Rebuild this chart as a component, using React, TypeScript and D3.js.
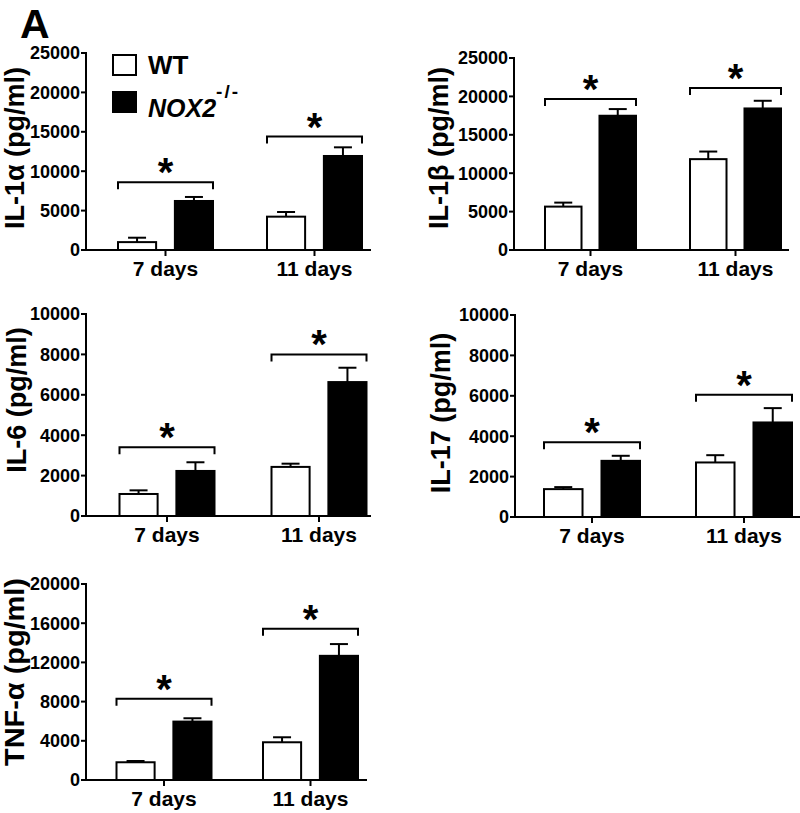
import React from "react";
import * as d3 from "d3";

const categories = ["7 days", "11 days"];
const seriesNames = ["WT", "NOX2"];
const cytokineLabels = ["IL-1α (pg/ml)", "IL-1β (pg/ml)", "IL-6 (pg/ml)", "IL-17 (pg/ml)", "TNF-α (pg/ml)"];
const yMaxValues = [25000, 25000, 10000, 10000, 20000];
const yTickSteps = [5000, 5000, 2000, 2000, 4000];
const wtMeans = [[1000, 4230], [5650, 11830], [1090, 2430], [1380, 2700], [1810, 3850]];
const wtSem = [[560, 590], [520, 990], [180, 160], [100, 360], [130, 510]];
const noxMeans = [[6220, 11930], [17480, 18430], [2230, 6630], [2780, 4680], [5960, 12670]];
const noxSem = [[510, 1100], [870, 1000], [430, 710], [250, 710], [340, 1200]];
const bracketLevels = [[8600, 14400], [19650, 21100], [3400, 8000], [3700, 6050], [8280, 15430]];
const significance = [["*", "*"], ["*", "*"], ["*", "*"], ["*", "*"], ["*", "*"]];
const legendLabels = ["WT", "NOX2", "-/-"];
const panelLetter = "A";

const layouts = [
  { axisX: 86, top: 53, bottom: 250, right: 370, groups: [165.5, 314.5], span: 95, labelX: 24, labelY: 148, labelLen: 0 },
  { axisX: 514, top: 58, bottom: 250, right: 788, groups: [590.5, 735.5], span: 91, labelX: 448, labelY: 148, labelLen: 0 },
  { axisX: 86, top: 314, bottom: 516, right: 370, groups: [167, 319], span: 95, labelX: 26, labelY: 400, labelLen: 0 },
  { axisX: 515, top: 315, bottom: 517, right: 800, groups: [592, 744], span: 96, labelX: 450, labelY: 413, labelLen: 0 },
  { axisX: 86, top: 584, bottom: 780, right: 366, groups: [164, 310.5], span: 95, labelX: 24, labelY: 672, labelLen: 188 },
];

const FONT = "'Liberation Sans', Arial, Helvetica, sans-serif";
const SW = 2;

function Panel({ idx }: { idx: number }) {
  const L = layouts[idx];
  const y = d3.scaleLinear().domain([0, yMaxValues[idx]]).range([L.bottom, L.top]);
  const xCat = d3.scaleOrdinal<string, number>().domain(categories).range(L.groups);
  const inner = d3.scaleBand<string>().domain(seriesNames).range([-L.span / 2, L.span / 2]).paddingInner(0.33).paddingOuter(0);
  const ticks = d3.range(0, yMaxValues[idx] + 1, yTickSteps[idx]);
  const means = [wtMeans[idx], noxMeans[idx]];
  const sems = [wtSem[idx], noxSem[idx]];
  const bw = inner.bandwidth();
  const labelProps: any = L.labelLen ? { textLength: L.labelLen, lengthAdjust: "spacingAndGlyphs" } : {};
  return (
    <g>
      <line x1={L.axisX} x2={L.axisX} y1={y(yMaxValues[idx])} y2={L.bottom} stroke="#000" strokeWidth={SW} strokeLinecap="square" />
      <line x1={L.axisX} x2={L.right} y1={L.bottom} y2={L.bottom} stroke="#000" strokeWidth={SW} strokeLinecap="square" />
      {ticks.map((t) => (
        <g key={t}>
          <line x1={L.axisX - 5} x2={L.axisX} y1={y(t)} y2={y(t)} stroke="#000" strokeWidth={SW} />
          <text x={L.axisX - 6} y={y(t)} dy="0.36em" textAnchor="end" fontFamily={FONT} fontWeight="bold" fontSize={18}>
            {t}
          </text>
        </g>
      ))}
      {categories.map((c) => (
        <g key={c}>
          <line x1={xCat(c)} x2={xCat(c)} y1={L.bottom} y2={L.bottom + 6} stroke="#000" strokeWidth={SW} />
          <text x={xCat(c)} y={L.bottom + 26} textAnchor="middle" fontFamily={FONT} fontWeight="bold" fontSize={21}>
            {c}
          </text>
        </g>
      ))}
      {categories.map((c, ci) => (
        <g key={"b" + c}>
          {seriesNames.map((s, si) => {
            const x0 = xCat(c) + (inner(s) as number);
            const cx = x0 + bw / 2;
            const m = means[si][ci];
            const e = m + sems[si][ci];
            return (
              <g key={s}>
                <line x1={cx} x2={cx} y1={y(m)} y2={y(e)} stroke="#000" strokeWidth={SW} />
                <line x1={cx - 9} x2={cx + 9} y1={y(e)} y2={y(e)} stroke="#000" strokeWidth={SW} />
                <rect x={x0} y={y(m)} width={bw} height={L.bottom - y(m)} fill={si === 0 ? "#fff" : "#000"} stroke="#000" strokeWidth={SW} />
              </g>
            );
          })}
          {(() => {
            const xl = xCat(c) + (inner(seriesNames[0]) as number);
            const xr = xCat(c) + (inner(seriesNames[1]) as number) + bw;
            const by = y(bracketLevels[idx][ci]);
            return (
              <g>
                <path d={`M${xl},${by + 7}V${by}H${xr}V${by + 7}`} fill="none" stroke="#000" strokeWidth={SW} />
                <text x={(xl + xr) / 2} y={by + 4} textAnchor="middle" fontFamily={FONT} fontWeight="bold" fontSize={40}>
                  {significance[idx][ci]}
                </text>
              </g>
            );
          })()}
        </g>
      ))}
      <text
        transform={`translate(${L.labelX},${L.labelY}) rotate(-90)`}
        textAnchor="middle"
        fontFamily={FONT}
        fontWeight="bold"
        fontSize={27}
        {...labelProps}
      >
        {cytokineLabels[idx]}
      </text>
    </g>
  );
}

export default function App() {
  return (
    <svg width={800} height={813} style={{ position: "absolute", left: 0, top: 0, background: "#fff" }}>
      <rect x={0} y={0} width={800} height={813} fill="#fff" />
      <text x={20} y={37.5} fontFamily={FONT} fontWeight="bold" fontSize={41}>{panelLetter}</text>
      {layouts.map((_, i) => (
        <Panel key={i} idx={i} />
      ))}
      <rect x={113} y={55} width={23} height={20} fill="#fff" stroke="#000" strokeWidth={SW} />
      <rect x={112} y={91} width={25} height={22} fill="#000" />
      <text x={148} y={73.5} fontFamily={FONT} fontWeight="bold" fontSize={26}>{legendLabels[0]}</text>
      <text x={148} y={117} fontFamily={FONT} fontWeight="bold" fontStyle="italic" fontSize={25}>
        {legendLabels[1]}
        <tspan dy={-19} fontSize={19} fontStyle="normal" letterSpacing={2}>{legendLabels[2]}</tspan>
      </text>
    </svg>
  );
}
